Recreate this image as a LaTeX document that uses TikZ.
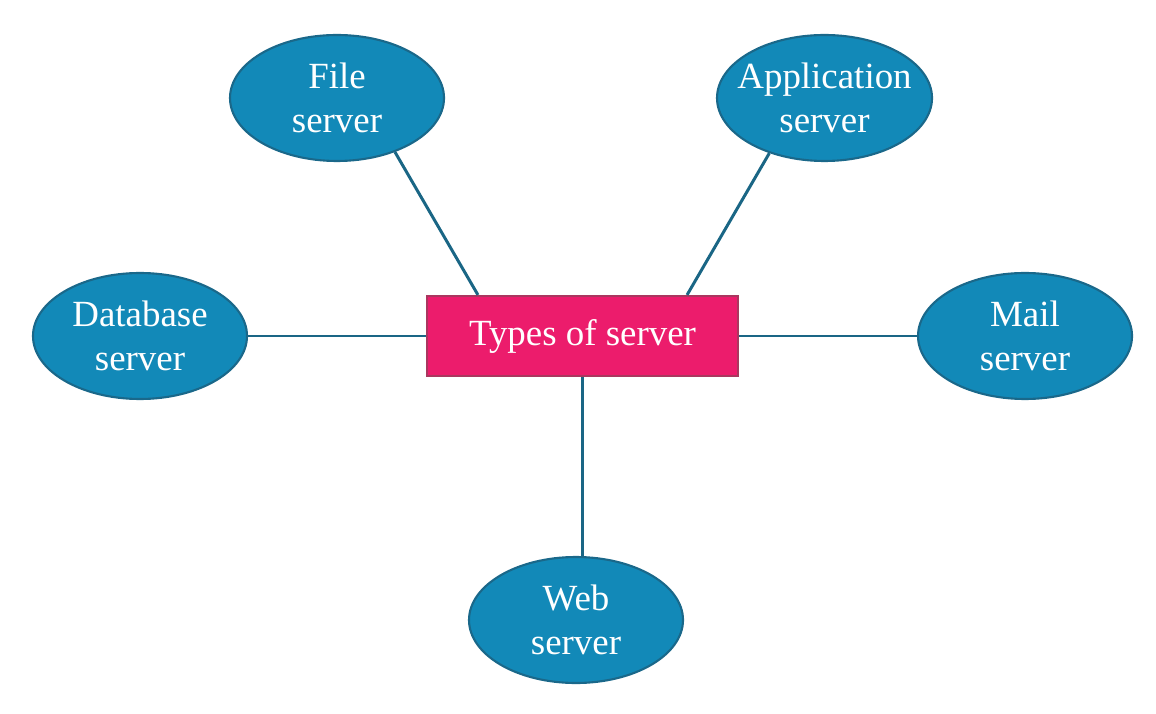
\documentclass[tikz,border=0pt]{standalone}
\usepackage{fontspec}
\setmainfont{Liberation Serif}
\usetikzlibrary{shapes.geometric,calc}
\definecolor{serverblue}{RGB}{18,137,184}
\definecolor{serveredge}{RGB}{26,104,138}
\definecolor{typespink}{RGB}{236,28,108}
\definecolor{typesedge}{RGB}{170,55,95}
\definecolor{linkblue}{RGB}{26,102,133}
\tikzset{
    server/.style={shape=ellipse,draw=serveredge,fill=serverblue,line width=0.6pt,
        inner sep=0pt,minimum width=2.14cm,minimum height=1.26cm,
        text=white,align=center,font=\fontsize{10.5}{12.5}\selectfont},
    link/.style={draw=linkblue,line width=0.85pt}
}
\begin{document}
\begin{tikzpicture}
    \useasboundingbox (0,0) rectangle (11.56,7.13);
    \node[shape=rectangle,draw=typesedge,fill=typespink,line width=0.6pt,
        minimum width=3.11cm,minimum height=0.80cm,text=white,
        font=\fontsize{10.5}{12.5}\selectfont] (types) at (5.825,3.77) {Types of server};
    \node[server] (file) at (3.37,6.15) {File\\server};
    \node[server,minimum width=2.15cm,inner xsep=-0.15cm] (app) at (8.245,6.15) {Application\\server};
    \node[server] (db) at (1.40,3.77) {Database\\server};
    \node[server] (mail) at (10.25,3.77) {Mail\\server};
    \node[server] (web) at (5.76,0.93) {Web\\server};
    \path[link] (file.-43) -- ([xshift=0.52cm]types.north west);
    \path[link] (app.-135) -- ([xshift=-0.52cm]types.north east);
    \path[link] (db.east) -- (types.west);
    \path[link] (types.east) -- (mail.west);
    \path[link] (types.south) -- (types.south |- web.north);
\end{tikzpicture}
\end{document}
